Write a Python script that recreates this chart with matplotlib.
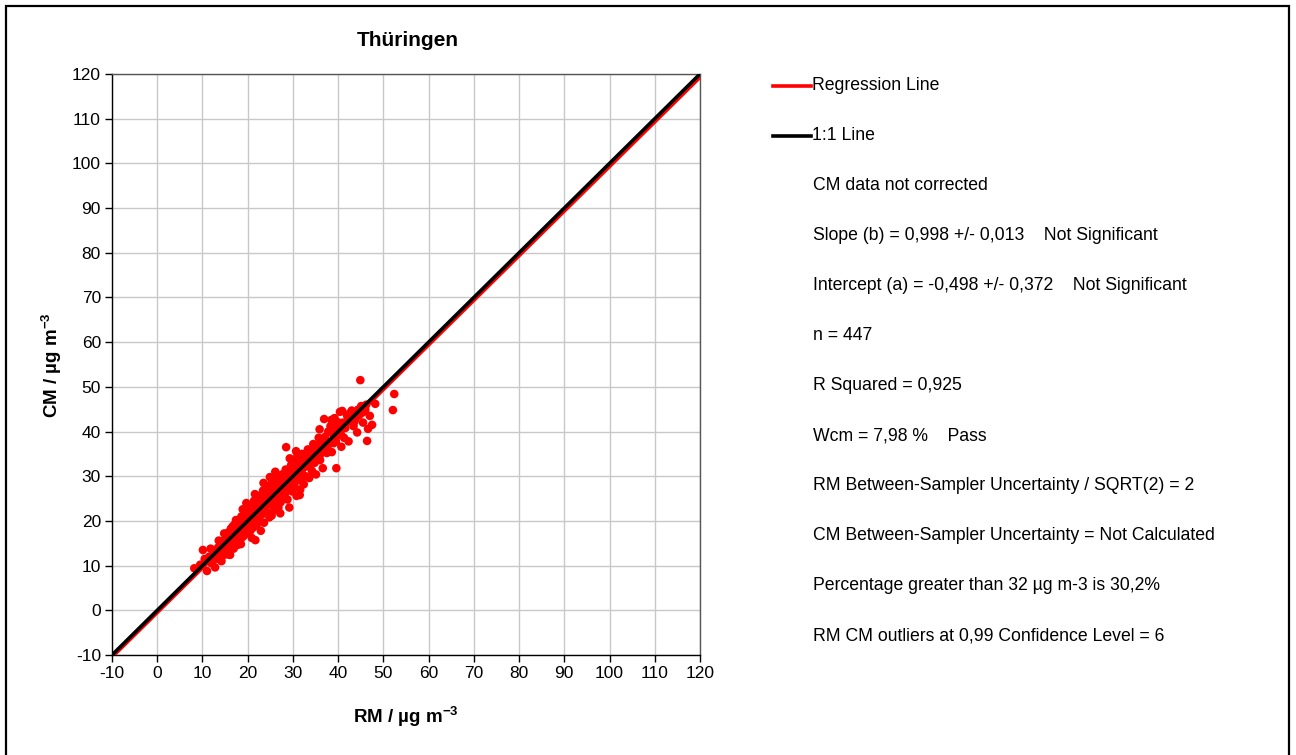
import matplotlib
matplotlib.use("Agg")
import matplotlib.pyplot as plt
from matplotlib.lines import Line2D
from matplotlib.patches import Rectangle
import numpy as np

plt.rcParams['font.family'] = ['Liberation Sans', 'DejaVu Sans']
plt.rcParams['mathtext.fontset'] = 'custom'
plt.rcParams['mathtext.rm'] = 'Liberation Sans'
plt.rcParams['mathtext.bf'] = 'Liberation Sans:bold'
plt.rcParams['axes.unicode_minus'] = False

title = "Thüringen"
x_label = r"RM / µg m$^{\mathbf{-3}}$"
y_label = r"CM / µg m$^{\mathbf{-3}}$"
ticks = list(range(-10, 121, 10))

slope = 0.998
intercept = -0.498

info_lines = [
    "CM data not corrected",
    "Slope (b) = 0,998 +/- 0,013    Not Significant",
    "Intercept (a) = -0,498 +/- 0,372    Not Significant",
    "n = 447",
    "R Squared = 0,925",
    "Wcm = 7,98 %    Pass",
    "RM Between-Sampler Uncertainty / SQRT(2) = 2",
    "CM Between-Sampler Uncertainty = Not Calculated",
    "Percentage greater than 32 µg m-3 is 30,2%",
    "RM CM outliers at 0,99 Confidence Level = 6",
]

rm = [8.2, 9.5, 10.1, 11.0, 10.5, 11.5, 12.0, 12.5, 11.8, 13.0, 13.4, 12.8, 13.8,
      14.0, 14.5, 14.2, 15.0, 15.3, 15.6, 15.8, 16.0, 16.1, 16.3, 16.6, 16.9, 17.0, 17.2, 17.5,
      14.8, 15.2, 16.4, 17.4, 16.7, 13.6, 14.6, 15.9, 17.7,
      18.0, 18.2, 18.4, 18.6, 18.8, 19.0, 19.2, 19.4, 19.6, 19.8, 20.0, 20.2, 20.4, 20.6, 20.8,
      21.0, 21.2, 21.4, 21.7, 21.8, 22.0, 22.2, 22.4, 22.6, 22.8, 18.5, 19.7, 20.9, 21.6, 22.9,
      18.9, 20.3, 21.3, 22.1,
      23.0, 23.2, 23.4, 23.6, 23.8, 24.0, 24.2, 24.4, 24.6, 24.8, 25.0, 25.2, 25.4, 25.6, 25.8,
      26.0, 26.2, 26.4, 26.6, 26.8, 27.0, 27.2, 27.4, 27.6, 27.8, 23.5, 24.9, 26.1, 25.3, 26.7,
      24.1, 23.1, 27.3,
      28.0, 28.2, 28.5, 28.4, 28.6, 28.8, 29.0, 29.2, 29.4, 29.6, 29.8, 30.0, 30.2, 30.4, 30.6,
      30.8, 31.0, 31.2, 31.4, 31.6, 31.8, 32.0, 32.2, 32.4, 32.6, 32.8, 29.3, 30.7, 31.5, 28.9,
      33.0, 33.3, 33.6, 33.9, 34.2, 34.5, 34.8, 35.1, 35.4, 35.7, 36.0, 36.3, 36.6, 36.9, 37.2,
      37.5, 37.8, 34.1, 35.9, 37.0, 33.7,
      38.0, 38.3, 38.6, 38.9, 39.2, 39.6, 39.5, 39.8, 40.1, 40.4, 40.7, 41.0, 41.3, 41.6, 42.0,
      42.3, 38.5, 40.9,
      43.0, 43.4, 43.8, 44.2, 44.6, 44.9, 45.1, 45.5, 45.9, 46.4, 46.6, 47.5, 48.2, 47.0, 46.2,
      52.4, 52.1,
      # second batch, dense core
      14.3, 15.1, 15.7, 16.2, 16.8, 17.3, 17.9, 18.3, 18.7, 19.1, 19.5, 19.9, 20.1, 20.5,
      20.7, 21.1, 21.5, 21.9, 22.3, 22.7, 23.3, 23.7, 24.3, 24.7, 25.1, 25.5, 25.9, 26.3,
      26.5, 26.9, 27.1, 27.5, 27.9, 28.3, 28.7, 29.1, 29.5, 29.9, 30.3, 30.9, 31.3, 31.9,
      32.5, 33.1, 33.5, 34.0, 34.6, 35.2, 35.8, 36.4, 37.1, 37.7, 38.4, 39.0, 39.9, 40.6,
      41.4, 42.6, 43.6, 44.4, 45.3, 46.0,
      17.1, 18.1, 19.3, 20.6, 21.9, 23.9, 25.7, 27.7, 29.7, 31.7, 33.8, 36.1]
cm = [9.4, 10.2, 13.5, 8.8, 11.5, 12.0, 10.5, 13.2, 13.8, 11.5, 14.0, 9.6, 12.6,
      13.0, 15.5, 11.0, 14.2, 16.8, 12.5, 17.5, 15.0, 12.4, 18.3, 16.0, 13.8, 17.2, 19.0, 15.5,
      17.2, 13.2, 14.2, 20.2, 18.8, 15.6, 12.3, 16.2, 14.6,
      17.0, 19.5, 15.8, 21.0, 18.2, 16.5, 20.2, 22.5, 18.8, 17.2, 21.2, 19.5, 23.5, 17.8, 20.6,
      22.2, 18.5, 24.5, 15.7, 21.0, 19.2, 23.0, 25.6, 20.2, 22.0, 14.8, 24.0, 16.2, 26.0, 17.8,
      22.6, 20.8, 20.0, 21.6,
      24.0, 21.5, 26.8, 19.6, 23.2, 25.5, 22.0, 27.8, 24.4, 20.8, 26.2, 23.6, 28.6, 25.0, 22.4,
      27.3, 24.4, 29.6, 26.0, 23.0, 28.2, 21.7, 25.6, 30.4, 27.0, 28.5, 29.8, 31.0, 21.2, 27.4,
      24.2, 22.8, 24.2,
      29.0, 26.0, 36.5, 31.5, 27.6, 24.8, 30.2, 23.0, 28.4, 32.5, 26.6, 29.6, 33.4, 27.6, 31.0,
      25.6, 34.5, 29.2, 32.2, 27.0, 30.6, 35.0, 31.8, 28.2, 33.5, 30.0, 34.0, 35.6, 25.8, 28.2,
      32.2, 36.0, 29.6, 34.0, 31.2, 37.2, 33.0, 30.4, 35.6, 38.6, 33.6, 36.6, 31.8, 42.8, 38.2,
      35.2, 40.0, 35.2, 40.5, 36.8, 32.8,
      37.4, 41.2, 35.4, 39.5, 43.0, 31.8, 37.8, 41.0, 39.2, 44.4, 36.6, 42.0, 38.6, 40.8, 43.5,
      37.8, 42.6, 44.6,
      44.7, 41.2, 42.8, 39.8, 43.6, 51.5, 45.7, 42.0, 44.6, 37.9, 40.6, 41.5, 46.2, 43.5, 46.0,
      48.4, 44.8,
      14.6, 15.9, 14.4, 16.9, 15.3, 18.0, 16.4, 19.2, 17.3, 20.6, 18.0, 21.4, 18.6, 22.0,
      19.9, 21.8, 20.4, 23.4, 21.0, 24.6, 22.6, 25.0, 23.8, 26.4, 24.8, 27.2, 23.9, 27.9,
      25.3, 29.0, 26.2, 28.6, 26.3, 29.8, 27.3, 31.0, 28.6, 30.8, 31.9, 29.4, 33.2, 31.2,
      33.8, 34.6, 32.4, 35.8, 33.2, 36.9, 34.4, 37.9, 38.8, 36.1, 39.8, 37.4, 42.1, 39.4,
      41.9, 44.1, 42.2, 44.9, 44.2, 44.9,
      19.2, 15.6, 17.6, 22.8, 19.8, 22.2, 26.8, 25.4, 31.8, 29.0, 35.6, 35.0]

W, H = 1296, 755
fig = plt.figure(figsize=(W / 100, H / 100), dpi=100)

# outer border
fig.patches.append(Rectangle((6 / W, -0.02), (1289 - 6) / W, 1 - 6 / H + 0.02,
                             transform=fig.transFigure, fill=False, edgecolor='black',
                             linewidth=1.6))

ax = fig.add_axes([112 / W, 1 - 655 / H, (700 - 112) / W, (655 - 74) / H])
ax.set_xlim(-10, 120)
ax.set_ylim(-10, 120)
ax.set_xticks(ticks)
ax.set_yticks(ticks)
ax.grid(True, color='#c8c8c8', linewidth=1.0)
ax.set_axisbelow(True)

ax.scatter(rm, cm, s=38, color='#ff0000', edgecolors='none', zorder=3)

line_x = np.array([-10, 120])
ax.plot(line_x, slope * line_x + intercept, color='#ff0000', linewidth=2.6, zorder=4,
        solid_capstyle='butt')
ax.plot(line_x, line_x, color='black', linewidth=2.6, zorder=5, solid_capstyle='butt')

for side in ['left', 'bottom']:
    ax.spines[side].set_color('black')
    ax.spines[side].set_linewidth(1.0)
for side in ['top', 'right']:
    ax.spines[side].set_color('#555555')
    ax.spines[side].set_linewidth(1.0)
ax.tick_params(direction='out', length=5, width=1, labelsize=12.5, pad=3)

fig.text(408 / W, 1 - 40 / H, title, ha='center', va='center', fontsize=15,
         fontweight='bold')
fig.text(406 / W, 1 - 717 / H, x_label, ha='center', va='center', fontsize=13.5,
         fontweight='bold')
fig.text(52 / W, 1 - 365 / H, y_label, ha='center', va='center', fontsize=13.5,
         fontweight='bold', rotation=90)

# legend
leg_items = [("Regression Line", '#ff0000'), ("1:1 Line", 'black')]
for i, (lab, col) in enumerate(leg_items):
    yy = 1 - (86 + 50 * i) / H
    fig.add_artist(Line2D([773 / W, 811 / W], [yy, yy], color=col, linewidth=2.6,
                          transform=fig.transFigure))
    fig.text(812 / W, yy, lab, ha='left', va='center', fontsize=12.7)

for i, t in enumerate(info_lines):
    yy = 1 - (186 + 50 * i) / H
    fig.text(813 / W, yy, t, ha='left', va='center', fontsize=12.7)

fig.savefig("out.png", dpi=100)
